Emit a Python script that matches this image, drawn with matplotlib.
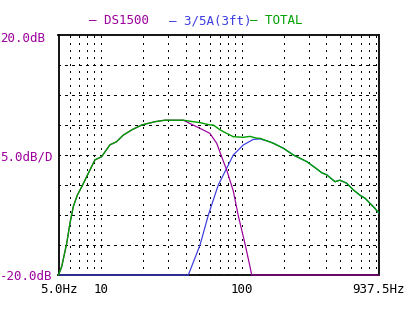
import matplotlib
matplotlib.use("Agg")
import matplotlib.pyplot as plt

plt.rcParams['lines.scale_dashes'] = False
plt.rcParams['font.family'] = ['DejaVu Sans Mono']

# ---- data ----
total_f = [5, 5.27, 5.72, 6.04, 6.37, 6.8, 7.31, 7.93, 9.08, 10.1, 11.6, 12.9, 14.4,
           16.6, 19.5, 24.2, 28.5, 38.5, 45.3, 50.6, 59.5, 62.9, 70.1, 74, 87.2,
           102.7, 114.6, 128, 135, 168, 198, 233, 290, 350, 370, 402, 460, 499,
           557, 620, 692, 752, 815, 885, 937.5]
total_db = [-20, -18.6, -14.7, -11.3, -8.6, -6.7, -5.3, -3.6, -0.8, -0.3, 1.7, 2.2, 3.3,
            4.2, 5.0, 5.55, 5.8, 5.8, 5.55, 5.4, 5.0, 5.0, 4.2, 3.9, 3.05,
            2.95, 3.1, 2.8, 2.78, 1.95, 1.12, 0.0, -1.1, -2.5, -2.95, -3.3, -4.45, -4.2,
            -4.7, -5.8, -6.7, -7.2, -8.05, -8.9, -9.6]

ds_f = [5, 5.27, 5.72, 6.04, 6.37, 6.8, 7.31, 7.93, 9.08, 10.1, 11.6, 12.9, 14.4,
        16.6, 19.5, 24.2, 28.5, 38.5, 47.9, 50.6, 59.5, 66.5, 72.1, 78.3, 87.2,
        94.6, 105.6, 114.6, 117.8, 937.5]
ds_db = [-20, -18.6, -14.7, -11.3, -8.6, -6.7, -5.3, -3.6, -0.8, -0.3, 1.7, 2.2, 3.3,
         4.2, 5.0, 5.55, 5.8, 5.8, 4.7, 4.45, 3.6, 1.95, -0.3, -2.5, -6.0,
         -10.1, -14.8, -18.6, -20, -20]

sat_f = [5, 41.8, 50.6, 58, 68.2, 78.3, 87.2, 102.7, 121, 135, 159, 168, 198, 233,
         290, 350, 370, 402, 460, 499, 557, 620, 692, 752, 815, 885, 937.5]
sat_db = [-20, -20, -15, -10, -5, -2.2, 0, 1.67, 2.6, 2.67, 2.2, 1.95, 1.12, 0.0,
          -1.1, -2.5, -2.95, -3.3, -4.45, -4.2, -4.7, -5.8, -6.7, -7.2, -8.05, -8.9, -9.6]

grid_f = [6, 7, 8, 9, 10, 20, 30, 40, 50, 60, 70, 80, 90, 100,
          200, 300, 400, 500, 600, 700, 800, 900]
grid_db = [-15, -10, -5, 0, 5, 10, 15]

xtick_vals = [5, 10, 100, 937.5]
xtick_labels = ["5.0Hz", "10", "100", "937.5Hz"]

PURPLE = '#9C009C'
BLUE = '#3C3CE0'
GREEN = '#00A000'

W, H = 416, 310
fig = plt.figure(figsize=(W / 100, H / 100), dpi=100)
ax = fig.add_axes([58.5 / W, (H - 275) / H, 320 / W, 240 / H])
ax.set_xscale('log')
ax.set_xlim(5, 937.5)
ax.set_ylim(-20, 20)

px = 0.72  # one pixel in points
for f in grid_f:
    ax.axvline(f, color='black', lw=1.0 * px, linestyle=(0, (2 * px, 5.5 * px)),
               antialiased=False, zorder=1)
for d in grid_db:
    ax.axhline(d, color='black', lw=1.0 * px, linestyle=(1 * px, (2.5 * px, 4.2 * px)),
               antialiased=False, zorder=1)

ax.plot(sat_f, sat_db, color=BLUE, lw=1.0 * px * 1.2, zorder=3, clip_on=False)
ax.plot(ds_f, ds_db, color=PURPLE, lw=1.0 * px * 1.2, zorder=3.1, clip_on=False)
ax.plot(total_f, total_db, color=GREEN, lw=1.0 * px * 1.4, zorder=3.2, clip_on=False)

for s in ax.spines.values():
    s.set_linewidth(1.3)
    s.set_color('black')

ax.set_xticks(xtick_vals)
ax.set_xticklabels(xtick_labels)
ax.xaxis.set_minor_locator(matplotlib.ticker.NullLocator())
ax.tick_params(axis='x', length=0, pad=6, labelsize=9, colors='black')
ax.set_yticks([])

fs = 9
fig.text(0 / W, 1 - 39 / H, "20.0dB", color=PURPLE, fontsize=fs, ha='left', va='center')
fig.text(0 / W, 1 - 157 / H, "5.0dB/D", color=PURPLE, fontsize=fs, ha='left', va='center')
fig.text(0 / W, 1 - 277 / H, "-20.0dB", color=PURPLE, fontsize=fs, ha='left', va='center')

ty = 1 - 20.5 / H
fig.text(89 / W, ty, "\u2013 DS1500", color=PURPLE, fontsize=fs, ha='left', va='center')
fig.text(169 / W, ty, "\u2013 3/5A(3ft)", color=BLUE, fontsize=fs, ha='left', va='center')
fig.text(250 / W, ty, "\u2013 TOTAL", color=GREEN, fontsize=fs, ha='left', va='center')

fig.savefig("out.png", dpi=100)
